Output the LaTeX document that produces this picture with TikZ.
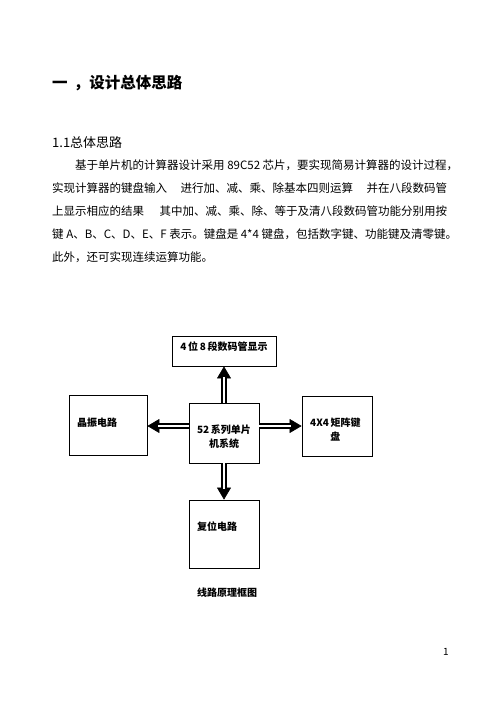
\documentclass[tikz,border=0pt]{standalone}
\usepackage{fontspec}
\setmainfont{Noto Sans CJK SC}
\usetikzlibrary{arrows.meta}
\begin{document}
\begin{tikzpicture}[x=1pt,y=-1pt,
  box/.style={draw,line width=0.8pt,inner sep=0pt},
  lbl/.style={font=\fontsize{10}{12}\selectfont\bfseries,inner sep=0pt},
  body/.style={font=\fontsize{11.5}{13}\selectfont,anchor=west,inner sep=0pt},
  head/.style={line width=0.6pt,-{Triangle[length=12pt,width=14pt]}},
  shaft/.style={double=white,double distance=1.6pt,line width=1.9pt,shorten >=11pt}]
\useasboundingbox[fill=white] (0,0) rectangle (500,706);
% heading
\node[anchor=west,inner sep=0pt,font=\fontsize{15.5}{17}\selectfont\bfseries] (h1) at (52,83) {一\ \,，设计总体思路};
\node[anchor=west,inner sep=0pt,font=\fontsize{13}{15}\selectfont] (h2) at (52,143) {1.1总体思路};
% paragraph
\node[body] (p1) at (75,165) {\makebox[372pt][l]{基于单片机的计算器设计采用\ 89C52\ 芯片，要实现简易计算器的设计过程，}};
\node[body] (p2) at (52,188) {\makebox[395pt][l]{实现计算器的键盘输入\hfill 进行加、减、乘、除基本四则运算\hfill 并在八段数码管}};
\node[body] (p3) at (52,211) {\makebox[395pt][l]{上显示相应的结果\hfill 其中加、减、乘、除、等于及清八段数码管功能分别用按}};
\node[body] (p4) at (52,234) {\makebox[395pt][l]{键\ A、B、C、D、E、F\ 表示。键盘是\ 4*4\ 键盘，包括数字键、功能键及清零键。}};
\node[body] (p5) at (52,257) {此外，还可实现连续运算功能。};
% boxes
\node[box,minimum width=104pt,minimum height=30pt] (top) at (224,351) {};
\node[lbl] at (224,347) {4\,位\,8\,段数码管显示};
\node[box,minimum width=70pt,minimum height=60pt] (mcu) at (224,433) {};
\node[lbl,align=center] at (224,437) {52\,系列单片\\[2pt]机系统};
\node[box,minimum width=78pt,minimum height=60pt] (osc) at (108,425) {};
\node[lbl,anchor=west] at (77,423) {晶振电路};
\node[box,minimum width=70pt,minimum height=60pt] (key) at (337,426) {};
\node[lbl,anchor=west,align=center] at (310,430) {4X4\,矩阵键\\[2pt]盘};
\node[box,minimum width=70pt,minimum height=68pt] (rst) at (224,534) {};
\node[lbl,anchor=west] at (197,527) {复位电路};
\node[lbl] (cap) at (227,593) {线路原理框图};
% arrows
\foreach \a/\b in {{mcu.north}/{top.south},{mcu.south}/{rst.north},{mcu.west |- 0,426}/{osc.east |- 0,426},{mcu.east |- 0,426}/{key.west |- 0,426}}{
  \draw[head] (\a) -- (\b);
  \draw[shaft] (\a) -- (\b);
}
% page number
\node[inner sep=0pt,font=\fontsize{10}{12}\selectfont] (pg) at (446,652) {1};
\end{tikzpicture}
\end{document}
